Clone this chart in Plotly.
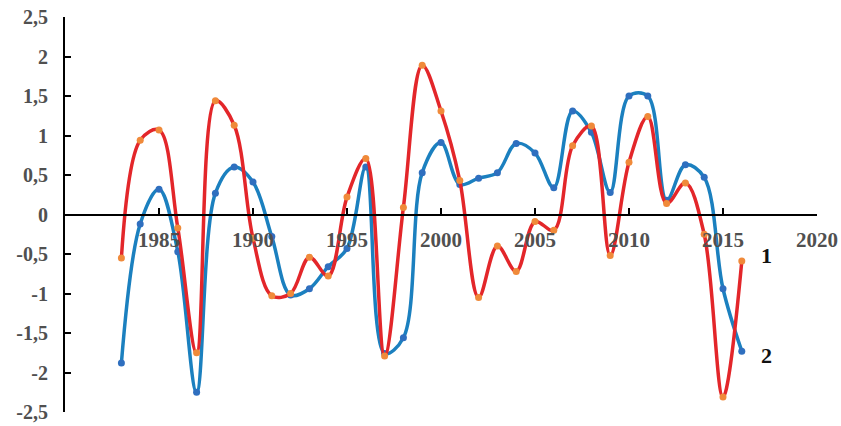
import plotly.graph_objects as go

years = list(range(1983, 2017))
series1 = [-0.55, 0.94, 1.07, -0.17, -1.75, 1.44, 1.13, -0.30, -1.03, -1.00,
           -0.54, -0.78, 0.22, 0.71, -1.79, 0.09, 1.89, 1.31, 0.43, -1.05,
           -0.40, -0.72, -0.09, -0.20, 0.87, 1.12, -0.52, 0.66, 1.24, 0.14,
           0.40, -0.25, -2.31, -0.59]
series2 = [-1.88, -0.12, 0.32, -0.47, -2.25, 0.27, 0.60, 0.41, -0.28, -1.02,
           -0.94, -0.66, -0.43, 0.60, -1.76, -1.56, 0.53, 0.91, 0.38, 0.46,
           0.53, 0.90, 0.78, 0.34, 1.31, 1.04, 0.28, 1.50, 1.50, 0.18,
           0.63, 0.47, -0.94, -1.73]
x_ticks = [1985, 1990, 1995, 2000, 2005, 2010, 2015, 2020]
y_ticks = [2.5, 2, 1.5, 1, 0.5, 0, -0.5, -1, -1.5, -2, -2.5]
y_tick_text = ["2,5", "2", "1,5", "1", "0,5", "0", "-0,5", "-1", "-1,5", "-2", "-2,5"]
series_labels = ["1", "2"]
label_x = 2017.3
label_y = [-0.52, -1.78]

fig = go.Figure()
fig.add_trace(go.Scatter(
    x=years, y=series2, mode="lines+markers",
    line=dict(color="#1B80BF", width=3.5, shape="spline", smoothing=1.0),
    marker=dict(color="#2F6FBF", size=7),
    showlegend=False, cliponaxis=False))
fig.add_trace(go.Scatter(
    x=years, y=series1, mode="lines+markers",
    line=dict(color="#E3262A", width=3.5, shape="spline", smoothing=1.0),
    marker=dict(color="#F08A3A", size=7),
    showlegend=False, cliponaxis=False))

for t, yy in zip(series_labels, label_y):
    fig.add_annotation(x=label_x, y=yy, text=f"<b>{t}</b>", showarrow=False,
                       xanchor="center", yanchor="middle",
                       font=dict(family="Liberation Serif", size=22, color="#111111"))

xtickfont = dict(family="Liberation Serif", size=21, color="#505050")
ytickfont = dict(family="Liberation Serif", size=20, color="#505050")
fig.update_layout(
    width=841, height=426,
    margin=dict(l=65, r=24, t=17, b=14),
    paper_bgcolor="white", plot_bgcolor="white",
    font=dict(family="Liberation Serif"),
    xaxis=dict(range=[1980, 2020], tickvals=x_ticks,
               ticktext=[f"<b>{v}</b>" for v in x_ticks],
               showgrid=False, zeroline=False, automargin=False,
               showline=True, linecolor="black", linewidth=2,
               ticks="inside", ticklen=6, tickwidth=2, tickcolor="black",
               anchor="free", position=0.5, tickfont=xtickfont,
               ticklabelstandoff=6, ticklabeloverflow="allow"),
    yaxis=dict(range=[-2.5, 2.5], tickvals=y_ticks,
               ticktext=[f"<b>{t}</b>" for t in y_tick_text],
               showgrid=False, zeroline=False, automargin=False,
               showline=True, linecolor="black", linewidth=2,
               ticks="inside", ticklen=6, tickwidth=2, tickcolor="black",
               tickfont=ytickfont, ticklabelstandoff=11,
               ticklabeloverflow="allow"),
)

fig.write_html("out.html",
               config={"displayModeBar": False},
               post_script="document.body.style.margin='0';document.body.style.overflow='hidden';")
